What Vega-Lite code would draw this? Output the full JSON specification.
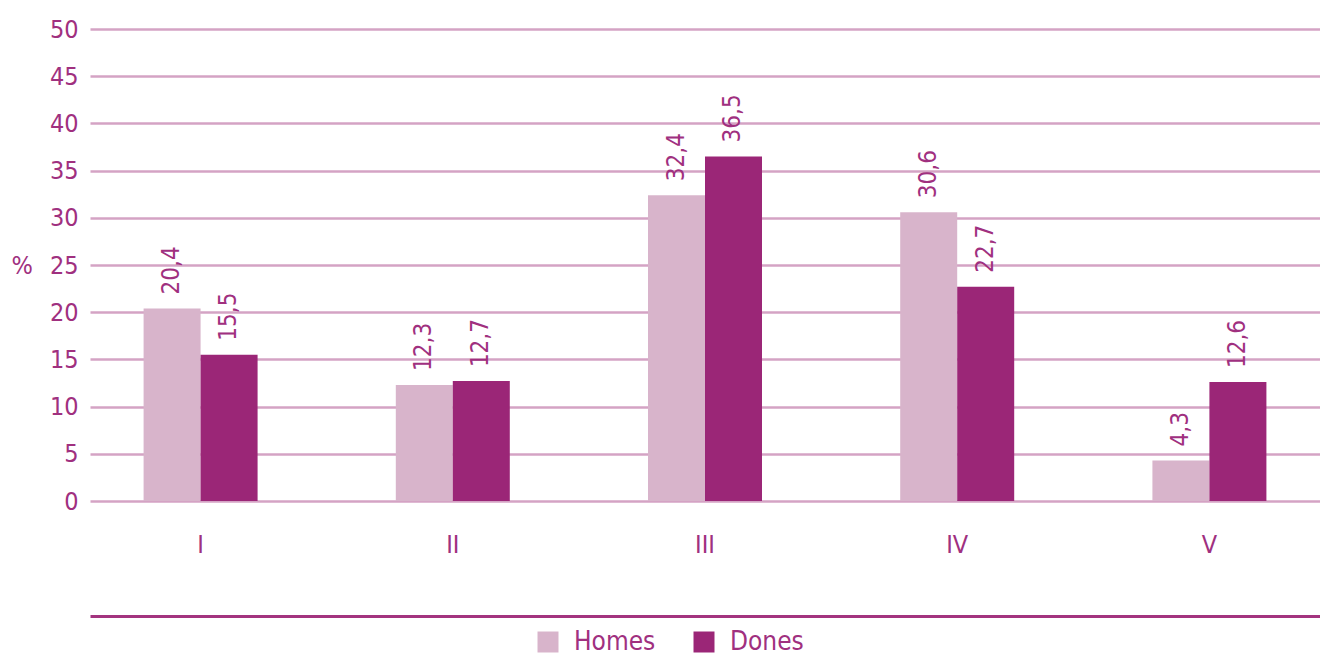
{
  "$schema": "https://vega.github.io/schema/vega-lite/v6.json",
  "autosize": {"type": "none"},
  "width": 1230,
  "height": 472,
  "padding": {"left": 90, "top": 29, "right": 0, "bottom": 161},
  "background": "white",
  "config": {
    "view": {"stroke": null},
    "font": "DejaVu Sans Condensed, Roboto, sans-serif",
    "text": {"font": "DejaVu Sans Condensed, Roboto, sans-serif"}
  },
  "data": {
    "values": [
      {"grup": "I", "sexe": "Homes", "valor": 20.4, "etiqueta": "20,4"},
      {"grup": "I", "sexe": "Dones", "valor": 15.5, "etiqueta": "15,5"},
      {"grup": "II", "sexe": "Homes", "valor": 12.3, "etiqueta": "12,3"},
      {"grup": "II", "sexe": "Dones", "valor": 12.7, "etiqueta": "12,7"},
      {"grup": "III", "sexe": "Homes", "valor": 32.4, "etiqueta": "32,4"},
      {"grup": "III", "sexe": "Dones", "valor": 36.5, "etiqueta": "36,5"},
      {"grup": "IV", "sexe": "Homes", "valor": 30.6, "etiqueta": "30,6"},
      {"grup": "IV", "sexe": "Dones", "valor": 22.7, "etiqueta": "22,7"},
      {"grup": "V", "sexe": "Homes", "valor": 4.3, "etiqueta": "4,3"},
      {"grup": "V", "sexe": "Dones", "valor": 12.6, "etiqueta": "12,6"}
    ]
  },
  "encoding": {
    "x": {
      "field": "grup",
      "type": "nominal",
      "sort": ["I", "II", "III", "IV", "V"],
      "scale": {"paddingInner": 0.548, "paddingOuter": 0.2125},
      "axis": {
        "title": null,
        "labelAngle": 0,
        "ticks": false,
        "offset": 115,
        "domainColor": "#a3347f",
        "domainWidth": 3,
        "labelPadding": -84,
        "labelBaseline": "top",
        "labelFontSize": 25,
        "labelColor": "#a0307f",
        "labelFont": "DejaVu Sans Condensed, Roboto, sans-serif"
      }
    },
    "xOffset": {
      "field": "sexe",
      "type": "nominal",
      "sort": ["Homes", "Dones"],
      "scale": {"paddingInner": 0, "paddingOuter": 0}
    },
    "y": {
      "field": "valor",
      "type": "quantitative",
      "scale": {"domain": [0, 50], "nice": false},
      "axis": {
        "values": [0, 5, 10, 15, 20, 25, 30, 35, 40, 45, 50],
        "title": "%",
        "titleAngle": 0,
        "titleX": -79,
        "titleY": 236,
        "titleAlign": "left",
        "titleBaseline": "middle",
        "titleFontSize": 25,
        "titleFontWeight": "normal",
        "titleColor": "#a0307f",
        "titleFont": "DejaVu Sans Condensed, Roboto, sans-serif",
        "domain": false,
        "ticks": false,
        "labelPadding": 12,
        "labelFontSize": 25,
        "labelColor": "#a0307f",
        "labelFont": "DejaVu Sans Condensed, Roboto, sans-serif",
        "gridColor": "#d4a3c4",
        "gridWidth": 2.5,
        "gridOpacity": 1
      }
    }
  },
  "layer": [
    {
      "mark": {"type": "bar"},
      "encoding": {
        "color": {
          "field": "sexe",
          "type": "nominal",
          "sort": ["Homes", "Dones"],
          "scale": {"domain": ["Homes", "Dones"], "range": ["#d8b4cb", "#9b2677"]},
          "legend": {
            "title": null,
            "orient": "none",
            "direction": "horizontal",
            "legendX": 445,
            "legendY": 600,
            "padding": 0,
            "symbolType": "square",
            "symbolSize": 441,
            "symbolStrokeWidth": 0,
            "symbolOpacity": 1,
            "labelFontSize": 26,
            "labelColor": "#a0307f",
            "labelFont": "DejaVu Sans Condensed, Roboto, sans-serif",
            "labelOffset": 13,
            "columnPadding": 35
          }
        }
      }
    },
    {
      "mark": {
        "type": "text",
        "angle": 270,
        "align": "left",
        "baseline": "middle",
        "dx": 14,
        "fontSize": 24,
        "color": "#a0307f",
        "font": "DejaVu Sans Condensed, Roboto, sans-serif"
      },
      "encoding": {
        "text": {"field": "etiqueta"}
      }
    }
  ]
}
